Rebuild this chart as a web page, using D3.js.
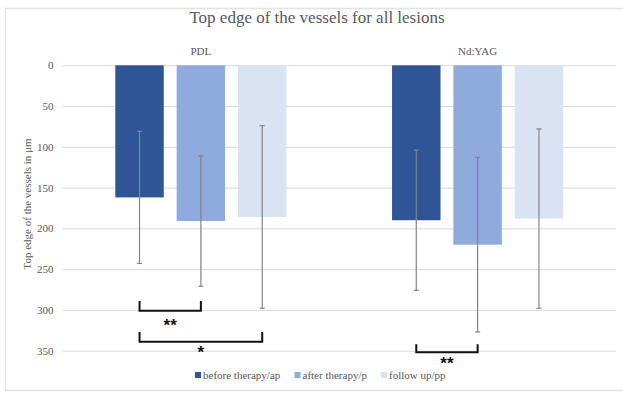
<!DOCTYPE html>
<html>
<head>
<meta charset="utf-8">
<script src="https://cdn.jsdelivr.net/npm/d3@7"></script>
<style>
  body { margin: 0; background: #fff; }
  svg text { font-family: 'Liberation Serif', 'Times New Roman', serif; }
</style>
</head>
<body>
<svg class="chart" width="623" height="393"></svg>
<script>
const groups = ['PDL', 'Nd:YAG'];
const series = ['before therapy/ap', 'after therapy/p', 'follow up/pp'];
const means = {
    'PDL': [162, 191, 186],
    'Nd:YAG': [190, 220, 188]
};
const sds = {
    'PDL': [81, 80, 112],
    'Nd:YAG': [86, 107, 110]
};
const yTicks = [0, 50, 100, 150, 200, 250, 300, 350];
// significance brackets: group, bar from/to, top/bottom and label depth in µm
const brackets = [
    { group: 'PDL', from: 0, to: 1, top: 289, bottom: 301, labelAt: 314, label: '**' },
    { group: 'PDL', from: 0, to: 2, top: 327, bottom: 339, labelAt: 347, label: '*' },
    { group: 'Nd:YAG', from: 0, to: 1, top: 342, bottom: 352, labelAt: 360, label: '**' }
];
const colors = ['#2f5597', '#8faadc', '#dae3f3'];

const svg = d3.select('.chart');

// chart frame
svg.append('rect')
    .attr('x', 5.5).attr('y', 8.5)
    .attr('width', 640).attr('height', 382)
    .attr('fill', 'none')
    .attr('stroke', '#e3e3e3')
    .attr('stroke-width', 1.5);

const x0 = d3.scaleBand()
    .domain(groups)
    .range([62.5, 616])
    .paddingInner(0.335)
    .paddingOuter(0.1675);

const x1 = d3.scaleBand()
    .domain(d3.range(series.length))
    .range([0, x0.bandwidth()])
    .paddingInner(0.21)
    .paddingOuter(0.105);

const y = d3.scaleLinear()
    .domain([0, 350])
    .range([65.3, 350.7]);

// gridlines + labels
const yAxis = d3.axisLeft(y)
    .tickValues(yTicks)
    .tickSize(-(616 - 62.5))
    .tickPadding(9);

const yAxisG = svg.append('g')
    .attr('transform', 'translate(62.5,0)')
    .call(yAxis);
yAxisG.select('.domain').remove();
yAxisG.selectAll('.tick line').attr('stroke', '#d9d9d9');
yAxisG.selectAll('.tick text')
    .attr('fill', '#595959')
    .style('font-size', '11px')
    .style('font-family', "'Liberation Serif', serif");

svg.append('text')
    .attr('transform', `translate(31, 204) rotate(-90)`)
    .attr('text-anchor', 'middle')
    .attr('fill', '#595959')
    .style('font-size', '11px')
    .text('Top edge of the vessels in μm');

svg.append('text')
    .attr('x', 317).attr('y', 23)
    .attr('text-anchor', 'middle')
    .attr('fill', '#595959')
    .style('font-size', '17px')
    .text('Top edge of the vessels for all lesions');

// group labels at top
svg.selectAll('.group-label')
    .data(groups)
    .enter()
    .append('text')
    .attr('class', 'group-label')
    .attr('x', d => x0(d) + x0.bandwidth() / 2)
    .attr('y', 55)
    .attr('text-anchor', 'middle')
    .attr('fill', '#595959')
    .style('font-size', '11px')
    .text(d => d);

const gGroup = svg.selectAll('.grp')
    .data(groups)
    .enter()
    .append('g')
    .attr('class', 'grp')
    .attr('transform', d => `translate(${x0(d)},0)`);

gGroup.selectAll('rect')
    .data(g => means[g].map((v, i) => ({ v, i })))
    .enter()
    .append('rect')
    .attr('x', d => x1(d.i))
    .attr('y', y(0))
    .attr('width', x1.bandwidth())
    .attr('height', d => y(d.v) - y(0))
    .attr('fill', d => colors[d.i]);

// error bars
const errs = gGroup.selectAll('.err')
    .data(g => means[g].map((v, i) => ({ v, i, sd: sds[g][i] })))
    .enter()
    .append('g')
    .attr('class', 'err')
    .attr('stroke', '#848484')
    .attr('stroke-width', 1.2);

errs.append('line')
    .attr('x1', d => x1(d.i) + x1.bandwidth() / 2)
    .attr('x2', d => x1(d.i) + x1.bandwidth() / 2)
    .attr('y1', d => y(d.v - d.sd))
    .attr('y2', d => y(d.v + d.sd));

[-1, 1].forEach(s => {
    errs.append('line')
        .attr('x1', d => x1(d.i) + x1.bandwidth() / 2 - 2.5)
        .attr('x2', d => x1(d.i) + x1.bandwidth() / 2 + 2.5)
        .attr('y1', d => y(d.v + s * d.sd))
        .attr('y2', d => y(d.v + s * d.sd));
});

// significance brackets
const cx = (g, i) => x0(g) + x1(i) + x1.bandwidth() / 2;

svg.selectAll('.bracket')
    .data(brackets)
    .enter()
    .append('path')
    .attr('class', 'bracket')
    .attr('fill', 'none')
    .attr('stroke', '#111')
    .attr('stroke-width', 2)
    .attr('d', b => `M${cx(b.group, b.from)},${y(b.top)}V${y(b.bottom)}H${cx(b.group, b.to)}V${y(b.top)}`);

svg.selectAll('.stars')
    .data(brackets)
    .enter()
    .append('text')
    .attr('class', 'stars')
    .attr('x', b => (cx(b.group, b.from) + cx(b.group, b.to)) / 2)
    .attr('y', b => y(b.labelAt) + 10)
    .attr('text-anchor', 'middle')
    .attr('fill', '#111')
    .style('font-family', "'Liberation Sans', Arial, sans-serif")
    .style('font-weight', 'bold')
    .style('font-size', '17px')
    .text(b => b.label);

// legend
const legendX = [195, 294.5, 381];
const legend = svg.selectAll('.legend')
    .data(series)
    .enter()
    .append('g')
    .attr('class', 'legend')
    .attr('transform', (d, i) => `translate(${legendX[i]},375)`);

legend.append('rect')
    .attr('x', 0).attr('y', -3)
    .attr('width', 6).attr('height', 6)
    .attr('fill', (d, i) => colors[i]);

legend.append('text')
    .attr('x', 8).attr('y', 4)
    .attr('fill', '#595959')
    .style('font-size', '11px')
    .text(d => d);
</script>
</body>
</html>
